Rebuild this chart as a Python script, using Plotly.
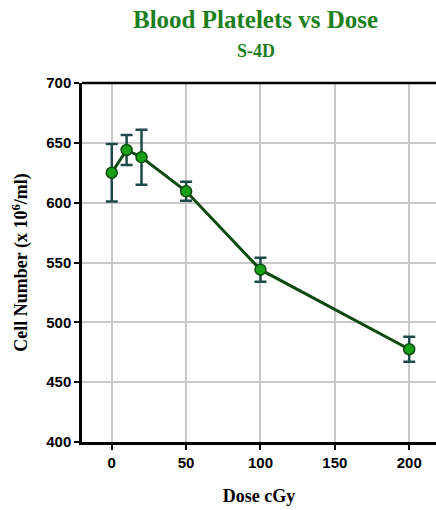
import plotly.graph_objects as go

dose = [0, 10, 20, 50, 100, 200]
cells = [625, 644, 638, 609.5, 544, 477.5]
err = [24, 12.5, 23, 8, 10, 10.5]
x_ticks = [0, 50, 100, 150, 200]
y_ticks = [400, 450, 500, 550, 600, 650, 700]

fig = go.Figure()
fig.add_trace(go.Scatter(
    x=dose, y=cells, mode="lines+markers",
    line=dict(color="#0d4a10", width=3),
    marker=dict(size=11, color="#16a016", line=dict(color="#0d4a10", width=1.5)),
    error_y=dict(type="data", array=err, visible=True, color="#1f4a4a", thickness=2.5, width=6),
    showlegend=False,
))

fig.update_layout(
    width=436, height=510,
    margin=dict(l=82, r=0, t=83, b=68),
    paper_bgcolor="white", plot_bgcolor="white",
    xaxis=dict(
        range=[-20, 218], tickvals=x_ticks, showgrid=True, gridcolor="#c8c8c8", gridwidth=2,
        showline=True, linecolor="black", linewidth=2.5, zeroline=False,
        ticks="outside", ticklen=5, tickwidth=2, tickcolor="black",
        tickfont=dict(family="Liberation Sans", size=15, color="black", weight="bold"),
        title=dict(text="<b>Dose cGy</b>", font=dict(family="Liberation Serif", size=18, color="black"), standoff=20),
    ),
    yaxis=dict(
        range=[400, 700], tickvals=y_ticks, showgrid=True, gridcolor="#c8c8c8", gridwidth=2,
        showline=True, linecolor="black", linewidth=2.5, zeroline=False, mirror=False,
        ticks="outside", ticklen=5, tickwidth=2, tickcolor="black",
        tickfont=dict(family="Liberation Sans", size=15, color="black", weight="bold"),
        title=dict(text="<b>Cell Number (x 10<sup>6</sup>/ml)</b>", font=dict(family="Liberation Serif", size=18, color="black"), standoff=14),
    ),
    annotations=[
        dict(text="<b>Blood Platelets vs Dose</b>", xref="paper", yref="paper", x=0.4915, y=1.1755,
             xanchor="center", yanchor="middle", showarrow=False,
             font=dict(family="Liberation Serif", size=25, color="#1e7f1e")),
        dict(text="<b>S-4D</b>", xref="paper", yref="paper", x=0.4915, y=1.089,
             xanchor="center", yanchor="middle", showarrow=False,
             font=dict(family="Liberation Serif", size=18, color="#1e7f1e")),
    ],
)
fig.add_shape(type="line", xref="paper", yref="paper", x0=0, x1=1, y0=1, y1=1,
              line=dict(color="black", width=2.5))

fig.write_html("out.html")
